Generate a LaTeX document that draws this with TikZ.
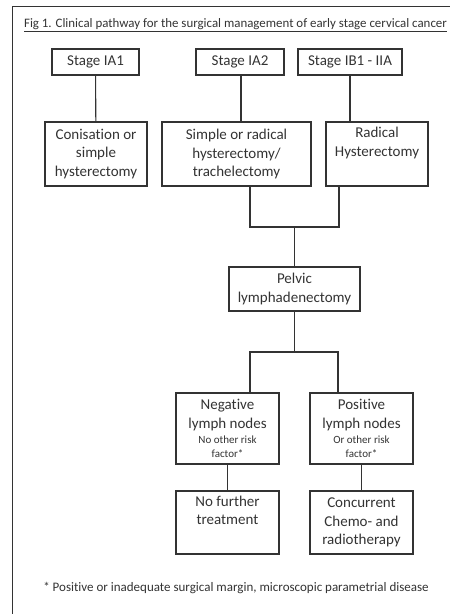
\documentclass[tikz,border=0pt]{standalone}
\usepackage{fontspec}
\setmainfont[Ligatures=NoCommon]{Carlito}
\usetikzlibrary{positioning,calc}

\definecolor{inkgray}{HTML}{333333}
\tikzset{
    box/.style={draw=inkgray, line width=1.1pt, text=inkgray, align=center,
        inner sep=0pt, font=\fontsize{15}{18.5}\selectfont},
    link/.style={draw=inkgray, line width=1.1pt}
}
\newcommand{\smallnote}[1]{{\fontsize{11}{13}\selectfont #1}}

\begin{document}
\begin{tikzpicture}[x=1pt, y=-1pt]
    \useasboundingbox (0,0) rectangle (450,614);
    % frame and title
    \draw[inkgray, line width=0.9pt] (12,614) -- (12,6) -- (450,6);
    \node[text=inkgray, font=\fontsize{12.9}{14}\selectfont] (title) at (235.5,25)
        {\underline{Fig 1. Clinical pathway for the surgical management of early stage cervical cancer}};
    % stages
    \node[box, minimum width=87pt, minimum height=26pt] (ia1) at (95.5,62) {Stage IA1};
    \node[box, minimum width=88pt, minimum height=26pt] (ia2) at (240,62) {Stage IA2};
    \node[box, minimum width=104pt, minimum height=26pt] (ib1) at (350,62) {Stage IB1 - IIA};
    % surgery
    \node[box, minimum width=102pt, minimum height=64pt] (coni) at (96,154) {Conisation or\\simple\\hysterectomy};
    \node[box, minimum width=149pt, minimum height=64pt] (simple) at (236.5,154) {Simple or radical\\hysterectomy/\\trachelectomy};
    \node[box, minimum width=102pt, minimum height=64pt] (rad) at (377,154) {Radical\\Hysterectomy\\\strut};
    \node[box, minimum width=131pt, minimum height=44pt] (pelvic) at (294.5,289) {Pelvic\\lymphadenectomy};
    % nodes status
    \node[box, minimum width=103pt, minimum height=71pt] (neg) at (227.5,428.5)
        {Negative\\lymph nodes\\[-3pt]\smallnote{No other risk}\\[-5pt]\smallnote{factor*}};
    \node[box, minimum width=103pt, minimum height=71pt] (pos) at (361.5,428.5)
        {Positive\\lymph nodes\\[-3pt]\smallnote{Or other risk}\\[-5pt]\smallnote{factor*}};
    \node[box, minimum width=103pt, minimum height=63pt] (nofurther) at (227.5,522.5) {No further\\treatment\\\strut};
    \node[box, minimum width=103pt, minimum height=63pt] (chemo) at (361.5,522.5) {Concurrent\\Chemo- and\\radiotherapy};
    \node[text=inkgray, font=\fontsize{13}{15}\selectfont] (note) at (236,588)
        {* Positive or inadequate surgical margin, microscopic parametrial disease};

    \coordinate (join1) at (294.5,227);
    \coordinate (join2) at (294.5,352);

    \draw[link] (ia1) -- (coni);
    \draw[link] ([xshift=1pt]ia2.south) -- ([xshift=1pt]ia2.south |- simple.north);
    \draw[link] (ib1.south) -- (ib1.south |- rad.north);
    \draw[link] ([xshift=13.5pt]simple.south) |- (join1) -| ([xshift=-38pt]rad.south);
    \draw[link] (join1) -- (pelvic);
    \draw[link] (pelvic) -- (join2);
    \draw[link] ([xshift=22.5pt]neg.north) |- (join2) -| ([xshift=-23.5pt]pos.north);
    \draw[link] (neg) -- (nofurther);
    \draw[link] (pos) -- (chemo);
\end{tikzpicture}
\end{document}
